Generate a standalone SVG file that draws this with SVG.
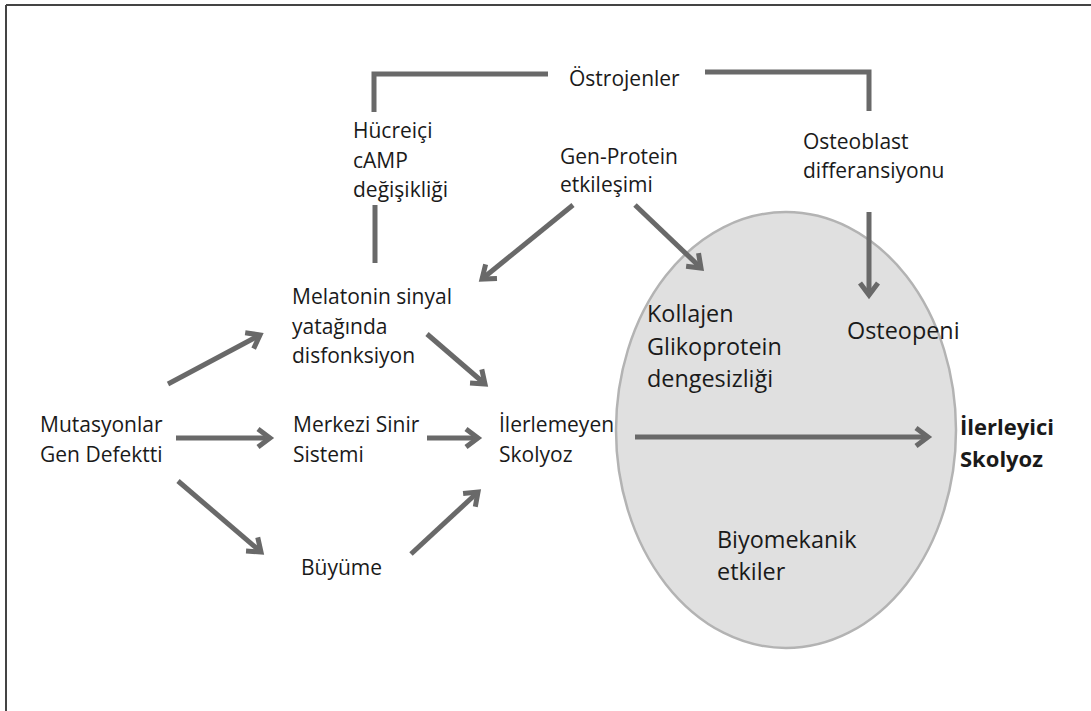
<svg xmlns="http://www.w3.org/2000/svg" width="1091" height="711" viewBox="0 0 1091 711">
<style>
text{font-family:"Open Sans","Noto Sans","Liberation Sans",sans-serif;font-size:21px;fill:#1a1a1a}
.big{font-size:23.4px}
.bold{font-size:22px;font-weight:bold}
.ln{stroke:#696969;stroke-width:5;fill:none}
.ar{stroke:#696969;stroke-width:5;fill:none;marker-end:url(#ah)}
</style>
<defs>
<marker id="ah" markerUnits="userSpaceOnUse" viewBox="0 0 24 24" markerWidth="24" markerHeight="24" refX="19" refY="12" orient="auto">
<path d="M7,3 L19,12 L7,21" fill="none" stroke="#696969" stroke-width="5" stroke-linejoin="miter" stroke-linecap="butt"/>
</marker>
</defs>
<rect width="1091" height="711" fill="#fff"/>
<g id="frame">
<line x1="6" y1="5" x2="1091" y2="5" stroke="#444" stroke-width="2"/>
<line x1="6" y1="5" x2="6" y2="711" stroke="#444" stroke-width="2"/>
</g>
<g id="ellipse"><ellipse cx="786" cy="430" rx="170" ry="218" fill="#e0e0e0" stroke="#b3b3b3" stroke-width="2.5"/></g>
<g id="connectors">
<polyline class="ln" points="548,74 374,74 374,112"/>
<polyline class="ln" points="705,72 869,72 869,111"/>
<line class="ln" x1="375" y1="205" x2="375" y2="263"/>
<line class="ar" x1="573" y1="205" x2="482" y2="279"/>
<line class="ar" x1="635" y1="205" x2="701" y2="268"/>
<line class="ar" x1="869" y1="212" x2="869" y2="295"/>
<line class="ar" x1="168" y1="384" x2="260" y2="335"/>
<line class="ar" x1="427" y1="334" x2="485" y2="384"/>
<line class="ar" x1="176" y1="438" x2="270" y2="438"/>
<line class="ar" x1="427" y1="438" x2="478" y2="438"/>
<line class="ar" x1="635" y1="437" x2="928" y2="437"/>
<line class="ar" x1="178" y1="481" x2="261" y2="552"/>
<line class="ar" x1="411" y1="554" x2="478" y2="492"/>
</g>
<g id="ostrojenler"><text x="569" y="86">Östrojenler</text></g>
<g id="hucreici"><text><tspan x="353" y="138">Hücreiçi</tspan><tspan x="353" y="168">cAMP</tspan><tspan x="353" y="197">değişikliği</tspan></text></g>
<g id="genprotein"><text><tspan x="560" y="164">Gen-Protein</tspan><tspan x="560" y="192">etkileşimi</tspan></text></g>
<g id="osteoblast"><text><tspan x="803" y="149">Osteoblast</tspan><tspan x="803" y="178">differansiyonu</tspan></text></g>
<g id="melatonin"><text><tspan x="292" y="304">Melatonin sinyal</tspan><tspan x="292" y="334">yatağında</tspan><tspan x="292" y="363">disfonksiyon</tspan></text></g>
<g id="kollajen"><text class="big"><tspan x="647" y="322">Kollajen</tspan><tspan x="647" y="354.5">Glikoprotein</tspan><tspan x="647" y="387">dengesizliği</tspan></text></g>
<g id="osteopeni"><text class="big" x="847" y="339">Osteopeni</text></g>
<g id="mutasyonlar"><text><tspan x="40" y="432">Mutasyonlar</tspan><tspan x="40" y="462">Gen Defektti</tspan></text></g>
<g id="merkezi"><text><tspan x="293" y="432">Merkezi Sinir</tspan><tspan x="293" y="462">Sistemi</tspan></text></g>
<g id="ilerlemeyen"><text><tspan x="499" y="432">İlerlemeyen</tspan><tspan x="499" y="462">Skolyoz</tspan></text></g>
<g id="ilerleyici"><text class="bold"><tspan x="960" y="435">İlerleyici</tspan><tspan x="960" y="467">Skolyoz</tspan></text></g>
<g id="buyume"><text x="301" y="575">Büyüme</text></g>
<g id="biyomekanik"><text class="big"><tspan x="717" y="548">Biyomekanik</tspan><tspan x="717" y="580">etkiler</tspan></text></g>
</svg>
